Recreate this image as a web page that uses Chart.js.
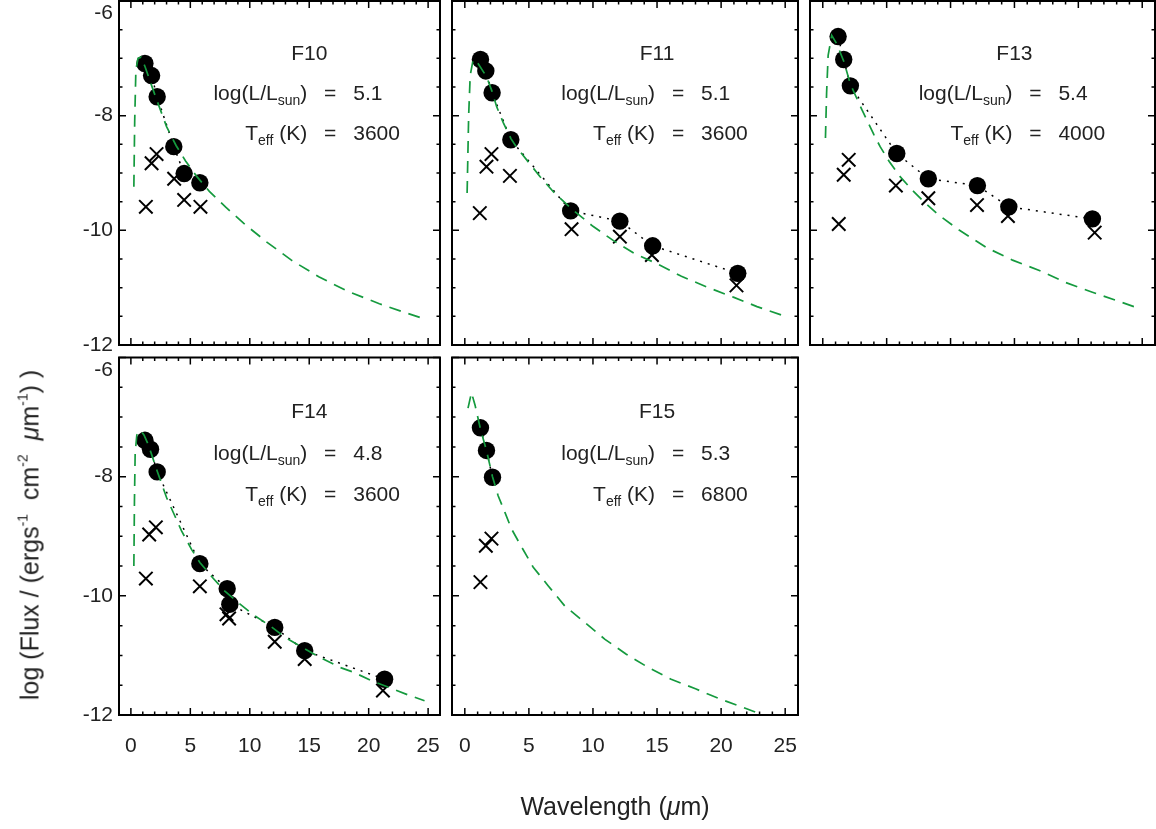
<!DOCTYPE html>
<html>
<head>
<meta charset="utf-8">
<title>SED fits</title>
<script src="https://cdn.jsdelivr.net/npm/chart.js@4.4.1/dist/chart.umd.min.js"></script>
<style>
  body { margin: 0; background: #fff; }
  #wrap { position: relative; width: 1156px; height: 829px; overflow: hidden; background: #fff; }
  #wrap canvas { position: absolute; left: 0; top: 0; }
  .axtitle { position: absolute; font-family: "Liberation Sans", Arial, sans-serif; font-size: 25px; color: #222; white-space: nowrap; line-height: 1; }
  .axtitle sup { font-size: 14px; vertical-align: 11px; line-height: 0; }
  #xtitle { left: 615px; top: 806px; transform: translate(-50%, -50%); }
  #ytitle { left: 30px; top: 535px; transform: translate(-50%, -50%) rotate(-90deg); }
</style>
</head>
<body>
<div id="wrap">
  <canvas id="cF10" width="1156" height="829"></canvas>
  <canvas id="cF11" width="1156" height="829"></canvas>
  <canvas id="cF13" width="1156" height="829"></canvas>
  <canvas id="cF14" width="1156" height="829"></canvas>
  <canvas id="cF15" width="1156" height="829"></canvas>
  <div id="xtitle" class="axtitle">Wavelength (<i>μ</i>m)</div>
  <div id="ytitle" class="axtitle">log (Flux / (ergs<sup>-1</sup>&nbsp; cm<sup>-2</sup>&nbsp; <i>μ</i>m<sup>-1</sup>) )</div>
</div>
<script>
// axis ticks
const xTicks = [0, 5, 10, 15, 20, 25];
const yTicks = [-12, -10, -8, -6];

// panel labels
const panelNames = ['F10', 'F11', 'F13', 'F14', 'F15'];
const logLum = ['5.1', '5.1', '5.4', '4.8', '5.3'];
const tEff = ['3600', '3600', '4000', '3600', '6800'];

// F10
const f10ObsX = [1.18, 1.74, 2.21, 3.61, 4.48, 5.80];
const f10ObsY = [-7.09, -7.30, -7.67, -8.54, -9.01, -9.17];
const f10CrossX = [1.26, 1.74, 2.16, 3.64, 4.48, 5.85];
const f10CrossY = [-9.59, -8.83, -8.67, -9.10, -9.47, -9.59];
const f10ModelX = [0.25, 0.32, 0.42, 0.6, 0.85, 1.2, 1.7, 2.2, 3.0, 3.8, 4.6, 5.5, 6.6, 8.0, 9.5, 11.4, 13.5, 15.8, 18.2, 20.9, 23.0, 24.6];
const f10ModelY = [-9.24, -8.1, -7.2, -7.0, -6.98, -7.15, -7.45, -7.74, -8.19, -8.52, -8.79, -9.05, -9.32, -9.6, -9.88, -10.2, -10.52, -10.81, -11.06, -11.28, -11.43, -11.54];

// F11
const f11ObsX = [1.22, 1.64, 2.13, 3.59, 8.26, 12.1, 14.66, 21.3];
const f11ObsY = [-7.02, -7.22, -7.60, -8.42, -9.66, -9.84, -10.27, -10.75];
const f11CrossX = [1.17, 1.69, 2.08, 3.52, 8.33, 12.1, 14.6, 21.2];
const f11CrossY = [-9.70, -8.89, -8.67, -9.05, -9.98, -10.11, -10.43, -10.96];
const f11ModelX = [0.18, 0.3, 0.42, 0.65, 1.0, 1.7, 2.13, 2.48, 3.0, 3.6, 4.04, 5.0, 5.86, 7.0, 8.46, 10.0, 11.6, 13.2, 14.97, 16.9, 18.9, 21.0, 22.8, 24.74];
const f11ModelY = [-9.35, -8.0, -7.3, -7.02, -7.08, -7.32, -7.58, -7.84, -8.12, -8.4, -8.55, -8.82, -9.06, -9.35, -9.65, -9.93, -10.18, -10.4, -10.58, -10.8, -10.99, -11.17, -11.33, -11.48];

// F13
const f13ObsX = [1.20, 1.64, 2.16, 5.79, 8.26, 12.1, 14.56, 21.1];
const f13ObsY = [-6.62, -7.02, -7.48, -8.66, -9.10, -9.22, -9.59, -9.80];
const f13CrossX = [1.25, 1.64, 2.03, 5.72, 8.26, 12.07, 14.49, 21.28];
const f13CrossY = [-9.89, -9.03, -8.77, -9.22, -9.44, -9.56, -9.75, -10.04];
const f13ModelX = [0.21, 0.3, 0.42, 0.7, 1.1, 1.64, 2.16, 3.07, 4.0, 4.49, 5.2, 6.0, 7.0, 8.0, 9.0, 10.7, 12.8, 14.85, 16.95, 19.0, 21.1, 23.2, 24.35];
const f13ModelY = [-8.39, -7.6, -6.95, -6.6, -6.75, -7.05, -7.45, -7.9, -8.33, -8.54, -8.8, -9.05, -9.3, -9.52, -9.72, -10.0, -10.3, -10.52, -10.7, -10.91, -11.08, -11.24, -11.33];

// F14
const f14ObsX = [1.18, 1.65, 2.21, 5.80, 8.10, 8.32, 12.1, 14.62, 21.34];
const f14ObsY = [-7.39, -7.54, -7.92, -9.46, -9.88, -10.14, -10.53, -10.92, -11.40];
const f14CrossX = [1.26, 1.54, 2.10, 5.80, 8.04, 8.26, 12.1, 14.62, 21.2];
const f14CrossY = [-9.71, -8.97, -8.85, -9.84, -10.31, -10.38, -10.77, -11.06, -11.59];
const f14ModelX = [0.25, 0.3, 0.36, 0.5, 0.8, 1.1, 1.46, 2.2, 3.0, 3.7, 4.26, 5.1, 5.8, 6.9, 7.9, 9.0, 10.3, 11.68, 13.0, 14.62, 15.6, 17.56, 18.7, 20.3, 22.0, 23.4, 24.7];
const f14ModelY = [-9.5, -8.4, -7.6, -7.3, -7.22, -7.3, -7.46, -7.9, -8.35, -8.66, -8.91, -9.22, -9.44, -9.7, -9.92, -10.11, -10.32, -10.5, -10.7, -10.89, -11.0, -11.2, -11.28, -11.43, -11.56, -11.67, -11.76];

// F15
const f15ObsX = [1.22, 1.69, 2.16];
const f15ObsY = [-7.18, -7.56, -8.01];
const f15CrossX = [1.22, 1.64, 2.08];
const f15CrossY = [-9.77, -9.16, -9.04];
const f15ModelX = [0.25, 0.52, 0.8, 1.22, 1.69, 2.16, 2.6, 3.13, 3.65, 4.3, 5.34, 6.5, 7.8, 9.38, 10.94, 12.6, 14.3, 16.1, 18.0, 19.9, 21.7, 23.5];
const f15ModelY = [-6.85, -6.59, -6.8, -7.2, -7.56, -8.0, -8.32, -8.6, -8.88, -9.13, -9.52, -9.83, -10.17, -10.45, -10.73, -10.98, -11.2, -11.4, -11.56, -11.73, -11.87, -12.02];

const obsX = [f10ObsX, f11ObsX, f13ObsX, f14ObsX, f15ObsX];
const obsY = [f10ObsY, f11ObsY, f13ObsY, f14ObsY, f15ObsY];
const crossX = [f10CrossX, f11CrossX, f13CrossX, f14CrossX, f15CrossX];
const crossY = [f10CrossY, f11CrossY, f13CrossY, f14CrossY, f15CrossY];
const modelX = [f10ModelX, f11ModelX, f13ModelX, f14ModelX, f15ModelX];
const modelY = [f10ModelY, f11ModelY, f13ModelY, f14ModelY, f15ModelY];

// frame boxes in page pixels [left, top, right, bottom]
const frames = [
  [119, 1, 440, 345],
  [452, 1, 798, 345],
  [810, 1, 1155, 345],
  [119, 357.5, 440, 715],
  [452, 357.5, 798, 715]
];
const showYLabels = [true, false, false, true, false];
const showXLabels = [false, false, false, true, true];

const FONT = '"Liberation Sans", Arial, Helvetica, sans-serif';
const TEXT = '#222';
const GREEN = '#159a3e';
const AXW = 60, AXH = 60;

const toPts = (xs, ys) => xs.map((x, i) => ({x: x, y: ys[i]}));

// IDL-like box: inward ticks on all four sides
const framePlugin = {
  id: 'frame',
  afterDatasetsDraw(chart) {
    const {ctx, chartArea: a} = chart;
    const sx = chart.scales.x, sy = chart.scales.y;
    ctx.save();
    ctx.strokeStyle = '#000';
    ctx.lineWidth = 1.5;
    ctx.beginPath();
    for (let v = 0; v <= 25; v++) {
      const px = sx.getPixelForValue(v);
      const len = v % 5 === 0 ? 7 : 3.5;
      ctx.moveTo(px, a.bottom); ctx.lineTo(px, a.bottom - len);
      ctx.moveTo(px, a.top); ctx.lineTo(px, a.top + len);
    }
    for (let v = -12; v <= -6; v += 0.5) {
      const py = sy.getPixelForValue(v);
      const len = v % 2 === 0 ? 7 : 3.5;
      ctx.moveTo(a.left, py); ctx.lineTo(a.left + len, py);
      ctx.moveTo(a.right, py); ctx.lineTo(a.right - len, py);
    }
    ctx.stroke();
    ctx.lineWidth = 2;
    ctx.strokeRect(a.left, a.top, a.right - a.left, a.bottom - a.top);
    ctx.restore();
  }
};

function drawParts(ctx, parts, xEnd, base) {
  let w = 0;
  parts.forEach(p => { ctx.font = (p[1] ? '14px ' : '21px ') + FONT; w += ctx.measureText(p[0]).width; });
  let cx = xEnd - w;
  ctx.textAlign = 'left';
  parts.forEach(p => {
    ctx.font = (p[1] ? '14px ' : '21px ') + FONT;
    ctx.fillText(p[0], cx, p[1] ? base + 5 : base);
    cx += ctx.measureText(p[0]).width;
  });
}

const labelPlugin = {
  id: 'panelLabel',
  afterDraw(chart, args, opts) {
    const {ctx} = chart;
    const sx = chart.scales.x, sy = chart.scales.y;
    const cx = sx.getPixelForValue(15);
    const rows = [-6.89, -7.59, -8.29].map(v => sy.getPixelForValue(v) + 7.5);
    ctx.save();
    ctx.fillStyle = TEXT;
    ctx.textBaseline = 'alphabetic';
    ctx.font = '21px ' + FONT;
    ctx.textAlign = 'center';
    ctx.fillText(opts.name, cx, rows[0]);
    drawParts(ctx, [['log(L/L', 0], ['sun', 1], [')', 0]], cx - 2, rows[1]);
    drawParts(ctx, [['T', 0], ['eff', 1], [' (K)', 0]], cx - 2, rows[2]);
    ctx.font = '21px ' + FONT;
    ctx.textAlign = 'center';
    ctx.fillText('=', cx + 21, rows[1]);
    ctx.fillText('=', cx + 21, rows[2]);
    ctx.textAlign = 'left';
    ctx.fillText(opts.lum, cx + 44, rows[1]);
    ctx.fillText(opts.teff, cx + 44, rows[2]);
    ctx.restore();
  }
};

panelNames.forEach((name, i) => {
  const [L, T, R, B] = frames[i];
  new Chart(document.getElementById('c' + name), {
    type: 'scatter',
    data: {
      datasets: [
        {
          data: toPts(modelX[i], modelY[i]),
          showLine: true,
          borderColor: GREEN,
          borderWidth: 1.7,
          borderDash: [12, 8],
          pointRadius: 0,
          fill: false,
          order: 0
        },
        {
          data: toPts(crossX[i], crossY[i]),
          pointStyle: 'crossRot',
          pointRadius: 9.5,
          borderColor: '#000',
          pointBorderWidth: 2,
          showLine: false,
          order: 1
        },
        {
          data: toPts(obsX[i], obsY[i]),
          showLine: true,
          borderColor: '#000',
          borderWidth: 1.5,
          borderDash: [2, 6],
          pointStyle: 'circle',
          pointRadius: 8.7,
          pointBackgroundColor: '#000',
          pointBorderColor: '#000',
          pointBorderWidth: 0,
          order: 2
        }
      ]
    },
    options: {
      responsive: false,
      animation: false,
      events: [],
      layout: {
        autoPadding: false,
        padding: {left: L - AXW, top: T, right: 1156 - R, bottom: 829 - B - AXH}
      },
      scales: {
        x: {
          type: 'linear',
          min: -1,
          max: 26,
          afterBuildTicks: s => { s.ticks = xTicks.map(v => ({value: v})); },
          afterFit: s => { s.height = AXH; s.paddingLeft = 0; s.paddingRight = 0; },
          grid: {display: false, drawTicks: false},
          border: {display: false},
          ticks: {display: showXLabels[i], padding: 19, color: TEXT, font: {family: FONT, size: 21}, maxRotation: 0}
        },
        y: {
          type: 'linear',
          min: -12,
          max: -6,
          afterBuildTicks: s => { s.ticks = yTicks.map(v => ({value: v})); },
          afterFit: s => { s.width = AXW; s.paddingTop = 0; s.paddingBottom = 0; },
          grid: {display: false, drawTicks: false},
          border: {display: false},
          ticks: {
            display: showYLabels[i],
            padding: 6,
            color: TEXT,
            font: {family: FONT, size: 21},
            callback: v => (v === -6 ? ['', String(v)] : String(v))
          }
        }
      },
      plugins: {
        legend: {display: false},
        tooltip: {enabled: false},
        panelLabel: {name: name, lum: logLum[i], teff: tEff[i]}
      }
    },
    plugins: [framePlugin, labelPlugin]
  });
});
</script>
</body>
</html>
